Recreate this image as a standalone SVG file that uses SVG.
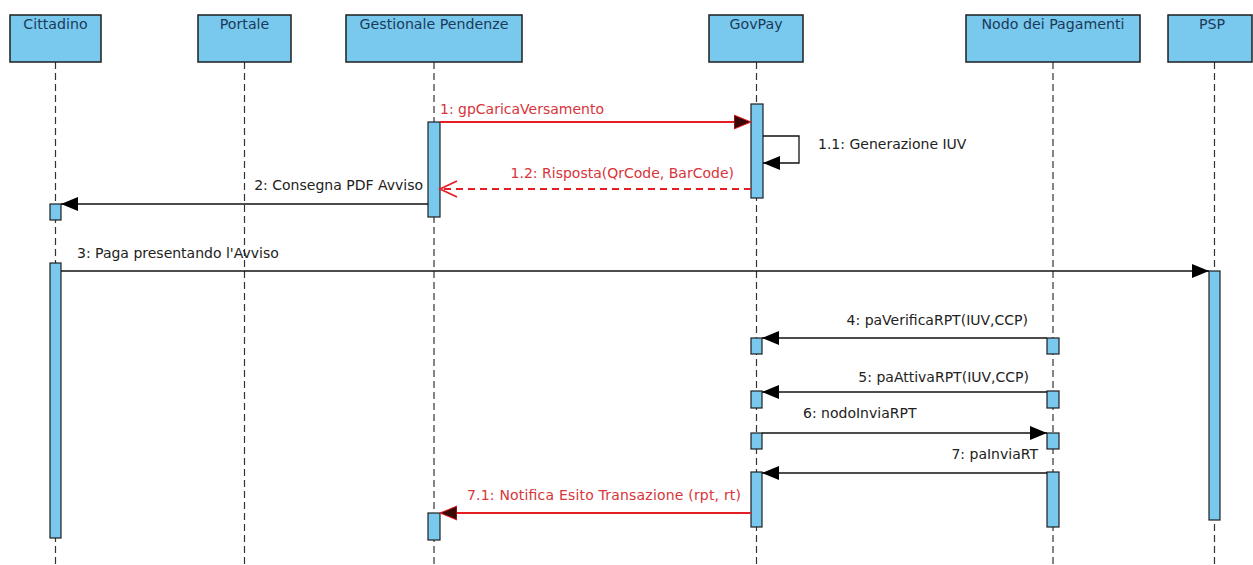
<svg xmlns="http://www.w3.org/2000/svg" width="1253" height="565" viewBox="0 0 1253 565">
<style>
.box{fill:#79c9ef;stroke:#1e1e1e;stroke-width:1.5}
.name{font-family:"DejaVu Sans",sans-serif;font-size:14.2px;fill:#1b3a58;text-anchor:middle}
.life{stroke:#333;stroke-width:1.2;stroke-dasharray:7,4;fill:none}
.act{fill:#79c9ef;stroke:#1e1e1e;stroke-width:1.2}
.msg{stroke:#111;stroke-width:1.3;fill:none}
.red{stroke:#e41e24;stroke-width:1.8;fill:none}
.dash{stroke-dasharray:7,5}
.lbl{font-family:"DejaVu Sans",sans-serif;font-size:14px;fill:#222}
.rlbl{font-family:"DejaVu Sans",sans-serif;font-size:14px;fill:#d8343a}
.end{text-anchor:end}
</style>
<defs>
<marker id="ah" markerUnits="userSpaceOnUse" markerWidth="18" markerHeight="16" refX="17" refY="8" orient="auto">
<path d="M0,1 L17,8 L0,15 z" fill="#000"/>
</marker>
<marker id="ahr" markerUnits="userSpaceOnUse" markerWidth="18" markerHeight="16" refX="17" refY="8" orient="auto">
<path d="M0,1 L17,8 L0,15 z" fill="#3a0606" stroke="#e41e24" stroke-width="1"/>
</marker>
<marker id="aho" markerUnits="userSpaceOnUse" markerWidth="20" markerHeight="20" refX="18" refY="10" orient="auto">
<path d="M1,2 L18,10 L1,18" fill="none" stroke="#e41e24" stroke-width="1.8"/>
</marker>
</defs>

<g id="cittadino">
<line class="life" x1="55.5" y1="62" x2="55.5" y2="565"/>
<rect class="box" x="10" y="15" width="91" height="47"/>
<text class="name" x="55.5" y="29">Cittadino</text>
<rect class="act" x="50" y="204" width="11" height="16"/>
<rect class="act" x="50" y="263" width="11" height="275"/>
</g>
<g id="portale">
<line class="life" x1="244.5" y1="62" x2="244.5" y2="565"/>
<rect class="box" x="198" y="15" width="93" height="47"/>
<text class="name" x="244.5" y="29">Portale</text>
</g>
<g id="gestionale">
<line class="life" x1="434" y1="62" x2="434" y2="565"/>
<rect class="box" x="346" y="15" width="176" height="47"/>
<text class="name" x="434" y="29">Gestionale Pendenze</text>
<rect class="act" x="428" y="122" width="12" height="95"/>
<rect class="act" x="428" y="513" width="12" height="27"/>
</g>
<g id="govpay">
<line class="life" x1="756.5" y1="62" x2="756.5" y2="565"/>
<rect class="box" x="709" y="15" width="94" height="47"/>
<text class="name" x="756" y="29">GovPay</text>
<rect class="act" x="751" y="104" width="12" height="94"/>
<rect class="act" x="751" y="338" width="11" height="16"/>
<rect class="act" x="751" y="391" width="11" height="17"/>
<rect class="act" x="751" y="433" width="11" height="16"/>
<rect class="act" x="751" y="472" width="11" height="55"/>
</g>
<g id="nodo">
<line class="life" x1="1053" y1="62" x2="1053" y2="565"/>
<rect class="box" x="966" y="15" width="174" height="47"/>
<text class="name" x="1053" y="29">Nodo dei Pagamenti</text>
<rect class="act" x="1047" y="338" width="12" height="16"/>
<rect class="act" x="1047" y="391" width="12" height="17"/>
<rect class="act" x="1047" y="433" width="12" height="16"/>
<rect class="act" x="1047" y="472" width="12" height="55"/>
</g>
<g id="psp">
<line class="life" x1="1214.5" y1="62" x2="1214.5" y2="565"/>
<rect class="box" x="1168" y="15" width="84" height="47"/>
<text class="name" x="1212" y="29">PSP</text>
<rect class="act" x="1209" y="271" width="11" height="249"/>
</g>

<g id="connectors">
<line class="red" x1="440" y1="122" x2="751" y2="122" marker-end="url(#ahr)"/>
<text class="rlbl" x="440" y="114">1: gpCaricaVersamento</text>
<path class="msg" d="M763,136 H799 V163 H763" marker-end="url(#ah)"/>
<text class="lbl" x="818" y="149">1.1: Generazione IUV</text>
<line class="red dash" x1="751" y1="189" x2="440" y2="189" marker-end="url(#aho)"/>
<text class="rlbl end" x="734" y="178">1.2: Risposta(QrCode, BarCode)</text>
<line class="msg" x1="428" y1="204" x2="61" y2="204" marker-end="url(#ah)"/>
<text class="lbl end" x="423" y="190">2: Consegna PDF Avviso</text>
<line class="msg" x1="61" y1="271" x2="1209" y2="271" marker-end="url(#ah)"/>
<text class="lbl" x="77" y="258">3: Paga presentando l'Avviso</text>
<line class="msg" x1="1047" y1="338" x2="762" y2="338" marker-end="url(#ah)"/>
<text class="lbl end" x="1028" y="325">4: paVerificaRPT(IUV,CCP)</text>
<line class="msg" x1="1047" y1="392" x2="762" y2="392" marker-end="url(#ah)"/>
<text class="lbl end" x="1029" y="382">5: paAttivaRPT(IUV,CCP)</text>
<line class="msg" x1="762" y1="433" x2="1047" y2="433" marker-end="url(#ah)"/>
<text class="lbl" x="803" y="418">6: nodoInviaRPT</text>
<line class="msg" x1="1047" y1="473" x2="762" y2="473" marker-end="url(#ah)"/>
<text class="lbl end" x="1038" y="459">7: paInviaRT</text>
<line class="red" x1="751" y1="513" x2="440" y2="513" marker-end="url(#ahr)"/>
<text class="rlbl" x="467" y="500" textLength="274">7.1: Notifica Esito Transazione (rpt, rt)</text>
</g>
</svg>
